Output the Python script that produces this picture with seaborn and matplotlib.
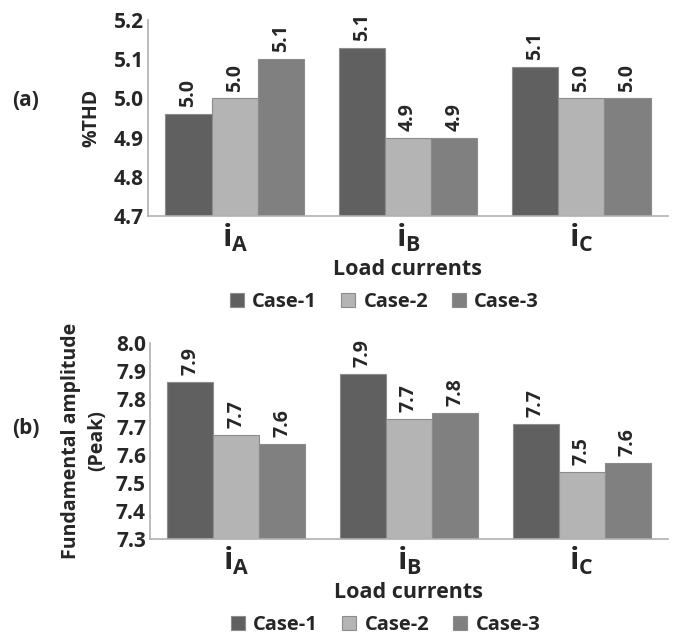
import matplotlib
matplotlib.use("Agg")
import matplotlib.pyplot as plt
import seaborn as sns
import pandas as pd

currents = ["iA", "iB", "iC"]
tick_labels = [r"$\mathbf{i}_\mathbf{A}$", r"$\mathbf{i}_\mathbf{B}$", r"$\mathbf{i}_\mathbf{C}$"]
cases = ["Case-1", "Case-2", "Case-3"]
thd_case1 = [4.96, 5.13, 5.08]
thd_case2 = [5.00, 4.90, 5.00]
thd_case3 = [5.10, 4.90, 5.00]
amp_case1 = [7.86, 7.89, 7.71]
amp_case2 = [7.67, 7.73, 7.54]
amp_case3 = [7.64, 7.75, 7.57]
colors = ["#606060", "#b4b4b4", "#808080"]

sns.set_theme(style="white")
FAM = "Open Sans"
plt.rcParams["font.family"] = [FAM, "DejaVu Sans"]
plt.rcParams["mathtext.fontset"] = "custom"
plt.rcParams["mathtext.bf"] = f"{FAM}:bold"
plt.rcParams["mathtext.rm"] = FAM


def long_df(v1, v2, v3):
    rows = []
    for vals, case in zip([v1, v2, v3], cases):
        for cur, v in zip(currents, vals):
            rows.append({"current": cur, "case": case, "value": v})
    return pd.DataFrame(rows)


fig = plt.figure(figsize=(6.76, 6.4), dpi=100)
ax1 = fig.add_axes([0.219, 0.6625, 0.769, 0.306])
ax2 = fig.add_axes([0.222, 0.158, 0.766, 0.306])

panels = [
    (ax1, long_df(thd_case1, thd_case2, thd_case3), (4.7, 5.2), [4.7, 4.8, 4.9, 5.0, 5.1, 5.2], "%THD", 9),
    (ax2, long_df(amp_case1, amp_case2, amp_case3), (7.3, 8.0),
     [7.3, 7.4, 7.5, 7.6, 7.7, 7.8, 7.9, 8.0], "Fundamental amplitude\n(Peak)", 6),
]

for ax, df, ylim, yticks, ylabel, ypad in panels:
    sns.barplot(data=df, x="current", y="value", hue="case", palette=colors,
                ax=ax, width=0.8, edgecolor="#8c8c8c", linewidth=0.8,
                errorbar=None, saturation=1)
    ax.set_ylim(*ylim)
    ax.set_yticks(yticks)
    ax.set_yticklabels([f"{t:.1f}" for t in yticks], fontsize=15, fontweight="bold")
    ax.set_xlim(-0.5, 2.5)
    ax.set_xticks(range(3))
    ax.set_xticklabels(tick_labels, fontsize=22)
    ax.tick_params(axis="x", length=0, pad=4)
    ax.tick_params(axis="y", length=0, pad=3)
    ax.set_xlabel("Load currents", fontsize=15.5, fontweight="bold", labelpad=4)
    ax.set_ylabel(ylabel, fontsize=14, fontweight="bold", labelpad=ypad, linespacing=1.45)
    for side in ["top", "right"]:
        ax.spines[side].set_visible(False)
    for side in ["left", "bottom"]:
        ax.spines[side].set_color("#b0b0b0")
        ax.spines[side].set_linewidth(1.2)
    for cont in ax.containers:
        ax.bar_label(cont, fmt="%.1f", rotation=90, padding=5, fontsize=14, fontweight="bold")
    leg = ax.legend(loc="center", bbox_to_anchor=(0.455, -0.44), ncol=3, frameon=False,
                    fontsize=14.5, handlelength=0.7, handleheight=0.7, columnspacing=1.2,
                    handletextpad=0.4)
    for t in leg.get_texts():
        t.set_fontweight("bold")

fig.text(0.038, 1 - 100 / 640, "(a)", fontsize=15, fontweight="bold", ha="center", va="center")
fig.text(0.038, 1 - 428 / 640, "(b)", fontsize=15, fontweight="bold", ha="center", va="center")

fig.savefig("out.png", dpi=100)
